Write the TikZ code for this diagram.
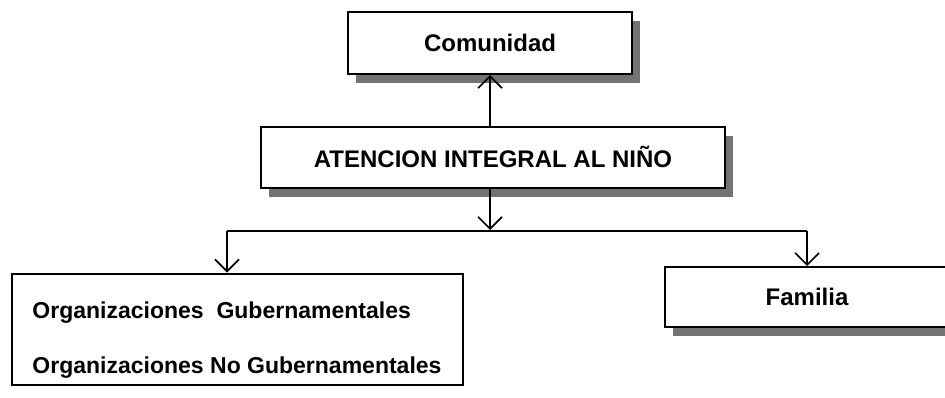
\documentclass[tikz,border=0pt]{standalone}
\usepackage{fontspec}
\setmainfont{Liberation Sans}
\usetikzlibrary{arrows.meta,shadows}

\begin{document}
\begin{tikzpicture}[x=1pt,y=-1pt,
  caja/.style={draw, line width=2pt, fill=white, font=\bfseries\fontsize{24}{29}\selectfont},
  sombra/.style={drop shadow={shadow xshift=8pt, shadow yshift=-9pt, fill=black!55, opacity=1}},
  flecha/.style={line width=1.6pt, -{Straight Barb[length=12pt,width=24pt,line width=1.6pt]}},
  linea/.style={line width=1.6pt}]
\useasboundingbox (0,0) rectangle (945,397);

\node[caja,sombra,minimum width=284pt,minimum height=62pt] (comunidad) at (490,43) {Comunidad};
\node[caja,sombra,minimum width=464pt,minimum height=61pt] (atencion) at (493,157) {ATENCION INTEGRAL AL NIÑO};
\node[caja,minimum width=451pt,minimum height=111pt,align=left,
  font=\bfseries\fontsize{23}{28}\selectfont] (org) at (237,329)
  {\rule{0pt}{38pt}Organizaciones\ \ Gubernamentales\\[27pt]Organizaciones No Gubernamentales};
\node[caja,sombra,minimum width=285pt,minimum height=60pt] (familia) at (807,297) {};
\node[font=\bfseries\fontsize{24}{29}\selectfont] (famtxt) at (807,297) {Familia};

\coordinate (busL) at (227,231);
\coordinate (busM) at (490,230);
\coordinate (busR) at (807,231);

\draw[flecha] (atencion.north -| comunidad.south) -- (comunidad.south);
\draw[flecha] (atencion.south -| busM) -- (busM);
\draw[linea] (busL) -- (busR);
\draw[flecha] (busL) -- (busL |- org.north);
\draw[flecha] (busR) -- (familia.north);
\end{tikzpicture}
\end{document}
